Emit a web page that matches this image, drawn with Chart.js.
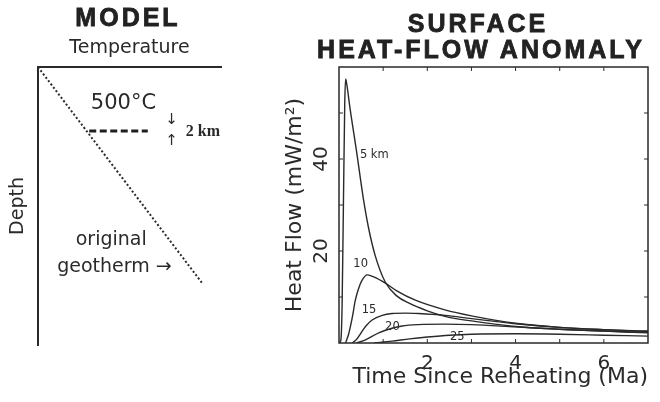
<!DOCTYPE html>
<html>
<head>
<meta charset="utf-8">
<script src="https://cdn.jsdelivr.net/npm/chart.js@4.4.1/dist/chart.umd.min.js"></script>
<style>
  html, body { margin: 0; padding: 0; background: #fff; }
  #page { position: relative; width: 660px; height: 402px; overflow: hidden; }
  .head {
    position: absolute;
    font-family: "Liberation Sans", Arial, sans-serif;
    font-weight: bold;
    font-size: 25px;
    line-height: 25px;
    letter-spacing: 3px;
    color: #222;
    -webkit-text-stroke: 0.8px #222;
    text-align: center;
    white-space: nowrap;
  }
  #modelWrap { position: absolute; left: 0; top: 0; width: 260px; height: 402px; }
  #flowWrap { position: absolute; left: 260px; top: 0; width: 400px; height: 402px; }
</style>
</head>
<body>
<div id="page">
  <div id="modelWrap"><canvas id="modelChart" width="260" height="402"></canvas></div>
  <div id="flowWrap"><canvas id="flowChart" width="400" height="402"></canvas></div>
  <div class="head" style="left:0; width:256px; top:5px;">MODEL</div>
  <div class="head" style="left:378px; width:200px; top:11px;">SURFACE</div>
  <div class="head" style="left:281px; width:400px; top:37px;">HEAT-FLOW ANOMALY</div>
</div>
<script>
// ---- model sketch (normalised temperature / depth) ----
const geothermTemp = [0, 0.9];
const geothermDepth = [0, 0.78];
const isothermTemp = [0.28, 0.6];
const isothermDepth = [0.23, 0.23];

// ---- surface heat-flow anomaly, time in Ma, heat flow in mW/m2 ----
const time5 = [0, 0.04, 0.07, 0.1, 0.13, 0.15, 0.18, 0.25, 0.4, 0.55, 0.67, 0.82, 1.05, 1.3, 1.6, 2, 2.4, 3, 4, 5, 6, 7];
const flow5 = [0, 0.5, 8, 30, 52, 57.4, 56, 51, 41.5, 31.5, 25, 19, 13.2, 10.3, 8.6, 7, 5.8, 4.8, 3.6, 3.0, 2.6, 2.3];
const time10 = [0.15, 0.22, 0.3, 0.37, 0.45, 0.52, 0.64, 0.8, 1.05, 1.3, 1.73, 2.4, 3, 4, 5, 6, 7];
const flow10 = [0, 2, 5.5, 9.3, 12, 13.6, 14.8, 14.3, 13, 11.4, 9.3, 7.2, 5.9, 4.3, 3.4, 2.9, 2.6];
const time15 = [0.3, 0.4, 0.5, 0.6, 0.75, 0.98, 1.2, 1.5, 1.8, 2.4, 3, 4, 5, 6, 7];
const flow15 = [0, 0.8, 2.2, 3.6, 5.0, 6.0, 6.4, 6.5, 6.4, 6.0, 5.3, 4.2, 3.4, 2.9, 2.5];
const time20 = [0.4, 0.6, 0.9, 1.2, 1.43, 1.8, 2.4, 3, 4, 5, 6, 7];
const flow20 = [0, 0.7, 2.2, 3.2, 3.7, 4.0, 4.1, 4.0, 3.5, 3.0, 2.6, 2.2];
const time25 = [0.8, 1.2, 1.6, 2, 2.5, 3, 4, 5, 6, 7];
const flow25 = [0, 0.4, 0.9, 1.3, 1.7, 1.9, 2.0, 1.9, 1.7, 1.5];

const depthLabels = ['5 km', '10', '15', '20', '25'];
const xTickLabels = [2, 4, 6];
const yTickLabels = [20, 40];

const ink = '#2a2a2a';
const sans = '"DejaVu Sans", sans-serif';

// where the depth labels sit, in data units
const curveLabels = [
  { text: depthLabels[0], x: 0.80, y: 40.9 },
  { text: depthLabels[1], x: 0.49, y: 17.2 },
  { text: depthLabels[2], x: 0.68, y: 7.2 },
  { text: depthLabels[3], x: 1.21, y: 3.5 },
  { text: depthLabels[4], x: 2.68, y: 1.2 }
];

const modelNotes = [
  { text: '500°C', x: 0.467, y: 0.13, font: '21px ' + sans, align: 'center' },
  { text: '↓', x: 0.73, y: 0.19, font: '15px ' + sans, align: 'center' },
  { text: '↑', x: 0.73, y: 0.266, font: '15px ' + sans, align: 'center' },
  { text: '2 km', x: 0.808, y: 0.234, font: 'bold 16px "Liberation Serif", serif', align: 'left' },
  { text: 'original', x: 0.40, y: 0.622, font: '19px ' + sans, align: 'center' },
  { text: 'geotherm →', x: 0.418, y: 0.72, font: '19px ' + sans, align: 'center' }
];

const toPoints = (xs, ys) => xs.map((v, i) => ({ x: v, y: ys[i] }));

const notesPlugin = {
  id: 'notes',
  afterDraw(chart, args, opts) {
    const { ctx, scales: { x, y } } = chart;
    ctx.save();
    ctx.fillStyle = ink;
    ctx.textBaseline = 'middle';
    opts.items.forEach(n => {
      ctx.font = n.font || ('11.5px ' + sans);
      ctx.textAlign = n.align || 'center';
      ctx.fillText(n.text, x.getPixelForValue(n.x), y.getPixelForValue(n.y));
    });
    ctx.restore();
  }
};

const framePlugin = {
  id: 'frame',
  afterDraw(chart) {
    const { ctx, chartArea: a, scales: { x, y } } = chart;
    ctx.save();
    ctx.strokeStyle = ink;
    ctx.lineWidth = 1.5;
    ctx.strokeRect(a.left, a.top, a.right - a.left, a.bottom - a.top);
    ctx.lineWidth = 1;
    ctx.beginPath();
    x.ticks.forEach(t => {
      if (t.value <= x.min || t.value >= x.max) return;
      const px = x.getPixelForValue(t.value);
      ctx.moveTo(px, a.top); ctx.lineTo(px, a.top + 4);
      ctx.moveTo(px, a.bottom); ctx.lineTo(px, a.bottom - 4);
    });
    y.ticks.forEach(t => {
      if (t.value <= y.min || t.value >= y.max) return;
      const py = y.getPixelForValue(t.value);
      ctx.moveTo(a.left, py); ctx.lineTo(a.left + 4, py);
      ctx.moveTo(a.right, py); ctx.lineTo(a.right - 4, py);
    });
    ctx.stroke();
    ctx.restore();
  }
};

// left: model sketch
new Chart(document.getElementById('modelChart'), {
  type: 'scatter',
  data: {
    datasets: [
      {
        label: 'original geotherm',
        data: toPoints(geothermTemp, geothermDepth),
        showLine: true,
        borderColor: ink,
        borderWidth: 2,
        borderDash: [2, 2.2],
        pointRadius: 0
      },
      {
        label: '500°C',
        data: toPoints(isothermTemp, isothermDepth),
        showLine: true,
        borderColor: '#1e1e1e',
        borderWidth: 3,
        borderDash: [7, 3.5],
        pointRadius: 0
      }
    ]
  },
  options: {
    responsive: false,
    animation: false,
    layout: { padding: { left: 0, top: 37, right: 39, bottom: 57 } },
    plugins: {
      legend: { display: false },
      tooltip: { enabled: false },
      notes: { items: modelNotes }
    },
    scales: {
      x: {
        type: 'linear', position: 'top', min: 0, max: 1,
        ticks: { display: false },
        grid: { display: false, drawTicks: false },
        border: { display: true, color: ink, width: 2 },
        title: { display: true, text: 'Temperature', color: ink, font: { family: sans, size: 19 }, padding: 0 },
        afterFit: s => { s.height = 30; }
      },
      y: {
        type: 'linear', min: 0, max: 1, reverse: true,
        ticks: { display: false },
        grid: { display: false, drawTicks: false },
        border: { display: true, color: ink, width: 2 },
        title: { display: true, text: 'Depth', color: ink, font: { family: sans, size: 19 }, padding: { top: 7, bottom: 0 } },
        afterFit: s => { s.width = 38; }
      }
    }
  },
  plugins: [notesPlugin]
});

// right: heat-flow anomaly curves
const series = [
  { label: depthLabels[0], time: time5, flow: flow5 },
  { label: depthLabels[1], time: time10, flow: flow10 },
  { label: depthLabels[2], time: time15, flow: flow15 },
  { label: depthLabels[3], time: time20, flow: flow20 },
  { label: depthLabels[4], time: time25, flow: flow25 }
];

new Chart(document.getElementById('flowChart'), {
  type: 'scatter',
  data: {
    datasets: series.map(s => ({
      label: s.label,
      data: toPoints(s.time, s.flow),
      showLine: true,
      cubicInterpolationMode: 'monotone',
      borderColor: ink,
      borderWidth: 1.4,
      pointRadius: 0
    }))
  },
  options: {
    responsive: false,
    animation: false,
    layout: { padding: { left: 20, top: 67, right: 12, bottom: 12 } },
    plugins: {
      legend: { display: false },
      tooltip: { enabled: false },
      notes: { items: curveLabels }
    },
    scales: {
      x: {
        type: 'linear', min: 0, max: 7,
        ticks: {
          stepSize: 1, autoSkip: false, padding: 9, color: ink,
          font: { family: sans, size: 20 },
          callback: v => xTickLabels.includes(v) ? String(v) : ''
        },
        grid: { display: false, drawTicks: false },
        border: { display: false },
        title: { display: true, text: 'Time Since Reheating (Ma)', align: 'end', color: ink, font: { family: sans, size: 22 }, padding: 0 },
        afterFit: s => { s.height = 47; }
      },
      y: {
        type: 'linear', min: 0, max: 60,
        ticks: {
          stepSize: 10, autoSkip: false, padding: 4, color: ink,
          minRotation: 90, maxRotation: 90, crossAlign: 'center',
          font: { family: sans, size: 20 },
          callback: v => yTickLabels.includes(v) ? String(v) : ''
        },
        grid: { display: false, drawTicks: false },
        border: { display: false },
        title: { display: true, text: 'Heat Flow (mW/m²)', color: ink, font: { family: sans, size: 22 }, padding: { top: 2, bottom: 0 } },
        afterFit: s => { s.width = 59; }
      }
    }
  },
  plugins: [notesPlugin, framePlugin]
});
</script>
</body>
</html>
